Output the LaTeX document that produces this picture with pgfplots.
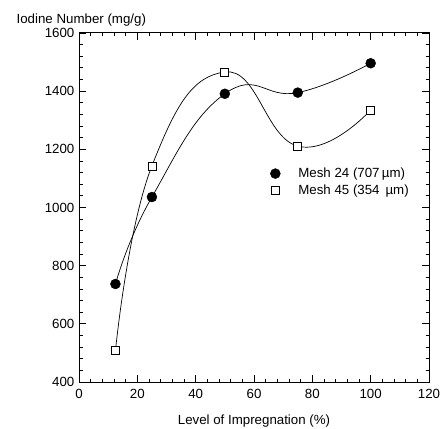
\documentclass[border=0pt]{standalone}
\usepackage{fontspec}
\setmainfont{Liberation Sans}
\usepackage{pgfplots}
\pgfplotsset{compat=1.18}
\begin{document}
\fontsize{13.3}{16}\selectfont
\begin{tikzpicture}
\useasboundingbox (0,0) rectangle (443pt,428pt);
\begin{axis}[
  at={(79pt,46pt)}, anchor=south west,
  scale only axis, width=350pt, height=349pt,
  xmin=0, xmax=120, ymin=400, ymax=1600,
  xtick={0,20,...,120}, ytick={400,600,...,1600},
  minor x tick num=4, minor y tick num=4,
  tick align=inside, tick pos=both,
  major tick length=7pt, minor tick length=3.5pt,
  every tick/.style={black, line width=0.8pt},
  axis line style={line width=1pt},
  /pgf/number format/assume math mode=true,
  /pgf/number format/1000 sep={},
  tick label style={font=\fontsize{13.3}{16}\selectfont},
  xticklabel style={yshift=-3pt},
  xlabel={Level of Impregnation (\%)},
  every axis x label/.style={at={(rel axis cs:0.5,0)}, anchor=base, yshift=-42pt, font=\fontsize{13.3}{16}\selectfont},
  ylabel={Iodine Number (mg/g)},
  every axis y label/.style={at={(rel axis cs:0,1)}, anchor=base west, xshift=-67pt, yshift=9pt, font=\fontsize{13.3}{16}\selectfont},
  legend style={at={(axis cs:64.5,1151)}, anchor=north west, draw=none, fill=none,
    font=\fontsize{13.3}{16}\selectfont, row sep=1pt,
    /tikz/every odd column/.append style={column sep=16pt}},
  legend image code/.code={\draw[#1] plot coordinates {(0pt,0pt)};},
  legend cell align=left,
]
% smooth curves
\addplot[black, line width=0.7pt, smooth, tension=0.8, forget plot]
  coordinates {(12.5,737) (25,1036) (50,1391) (75,1395) (100,1496)};
\addplot[black, line width=0.7pt, smooth, tension=0.8, forget plot]
  coordinates {(12.5,508) (25,1143) (50,1466) (75,1211) (100,1335)};
% markers
\addplot[black, only marks, mark=*, mark size=5pt, mark options={fill=black}]
  coordinates {(12.5,737) (25,1036) (50,1391) (75,1395) (100,1496)};
\addlegendentry{Mesh 24 (707\,µm)}
\addplot[black, only marks, mark=square*, mark size=4pt, mark options={fill=white, line width=0.8pt}]
  coordinates {(12.5,508) (25,1143) (50,1466) (75,1211) (100,1335)};
\addlegendentry{Mesh 45 (354\ \,µm)}
\end{axis}
\end{tikzpicture}
\end{document}
